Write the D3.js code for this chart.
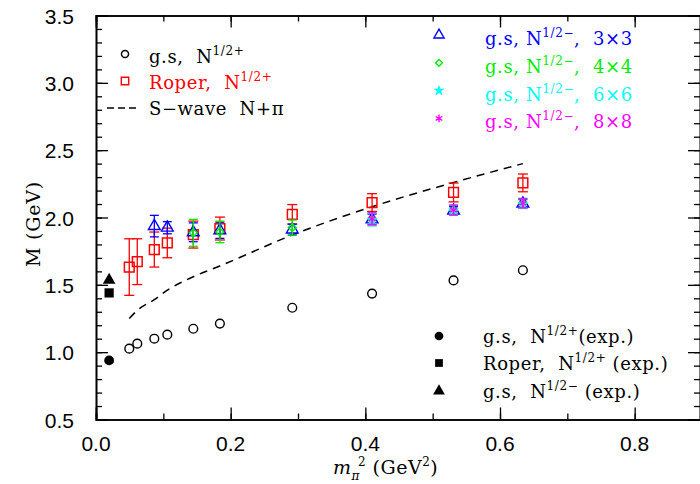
<!DOCTYPE html>
<html>
<head>
<meta charset="utf-8">
<script src="https://cdn.jsdelivr.net/npm/d3@7"></script>
<style>
  body { margin: 0; background: #fff; }
  svg { display: block; }
  .serif { font-family: "DejaVu Serif", serif; }
</style>
</head>
<body>
<svg id="chart" width="700" height="484"></svg>
<script>
// pion mass squared (GeV^2) where the lattice points sit
var mpi2 = [0.0494, 0.0613, 0.0866, 0.1059, 0.1445, 0.184, 0.2915, 0.41, 0.531, 0.634];
var gsPlus = [1.026, 1.063, 1.100, 1.130, 1.174, 1.212, 1.330, 1.435, 1.533, 1.608];
var roper = [1.632, 1.672, 1.762, 1.811, 1.873, 1.918, 2.024, 2.111, 2.186, 2.257];
var roperErr = [0.21, 0.17, 0.13, 0.11, 0.10, 0.085, 0.072, 0.066, 0.07, 0.066];
var sWave = [1.25, 1.31, 1.39, 1.46, 1.56, 1.64, 1.87, 2.08, 2.26, 2.40];

var mpi2Neg3 = [0.0866, 0.1059, 0.1445, 0.184, 0.2915, 0.41, 0.531, 0.634];
var gsMinus3 = [1.936, 1.924, 1.89, 1.905, 1.91, 1.985, 2.05, 2.103];
var gsMinus3Err = [0.08, 0.045, 0.07, 0.06, 0.04, 0.04, 0.03, 0.03];

var mpi2Neg4 = [0.1445, 0.184, 0.2915, 0.41, 0.531, 0.634];
var gsMinus4 = [1.886, 1.893, 1.925, 1.985, 2.054, 2.104];
var gsMinus4Err = [0.10, 0.08, 0.056, 0.046, 0.037, 0.037];

var mpi2Neg6 = [0.41, 0.531, 0.634];
var gsMinus6 = [1.985, 2.054, 2.104];
var gsMinus6Err = [0.045, 0.037, 0.035];

var mpi2Neg8 = [0.41, 0.531, 0.634];
var gsMinus8 = [1.99, 2.055, 2.106];
var gsMinus8Err = [0.045, 0.037, 0.035];

// experimental values at the physical pion mass
var mpi2Phys = 0.0195;
var expGs = 0.939, expRoper = 1.44, expNeg = 1.535;

var xTicks = [0, 0.2, 0.4, 0.6, 0.8];
var yTicks = [0.5, 1.0, 1.5, 2.0, 2.5, 3.0, 3.5];

var svg = d3.select("#chart");

var xScale = d3.scaleLinear()
    .domain([0, 0.9])
    .range([96, 702]);
var yScale = d3.scaleLinear()
    .domain([0.5, 3.5])
    .range([419.5, 15.5]);

var zip = function(xs, ys, es)
{
    return xs.map(function(x, i) { return {x: x, y: ys[i], e: es ? es[i] : 0}; });
}

// frame + ticks (pointing inward)
var drawAxes = function()
{
    var g = svg.append("g").attr("class", "axes");
    var minorX = d3.range(0, 0.91, 0.1);
    var minorY = d3.range(0.5, 3.51, 0.1);

    var axB = d3.axisBottom(xScale).tickValues(xTicks).tickSize(-12).tickFormat("");
    var axBm = d3.axisBottom(xScale).tickValues(minorX).tickSize(-6).tickFormat("");
    var axT = d3.axisTop(xScale).tickValues(xTicks).tickSize(-12).tickFormat("");
    var axTm = d3.axisTop(xScale).tickValues(minorX).tickSize(-6).tickFormat("");
    var axL = d3.axisLeft(yScale).tickValues(yTicks).tickSize(-12).tickFormat("");
    var axLm = d3.axisLeft(yScale).tickValues(minorY).tickSize(-6).tickFormat("");
    var axR = d3.axisRight(yScale).tickValues(yTicks).tickSize(-12).tickFormat("");
    var axRm = d3.axisRight(yScale).tickValues(minorY).tickSize(-6).tickFormat("");

    g.append("g").attr("transform", "translate(0,419.5)").call(axB);
    g.append("g").attr("transform", "translate(0,419.5)").call(axBm);
    g.append("g").attr("transform", "translate(0,15.5)").call(axT);
    g.append("g").attr("transform", "translate(0,15.5)").call(axTm);
    g.append("g").attr("transform", "translate(96,0)").call(axL);
    g.append("g").attr("transform", "translate(96,0)").call(axLm);
    g.append("g").attr("transform", "translate(700,0)").call(axR);
    g.append("g").attr("transform", "translate(700,0)").call(axRm);

    g.selectAll(".domain").style("stroke", "black").style("stroke-width", 1.6);
    g.selectAll(".tick line").style("stroke", "black").style("stroke-width", 1.3);

    // tick labels
    g.selectAll(".xlab")
        .data(xTicks)
        .enter()
        .append("text")
        .attr("x", function(d) { return xScale(d); })
        .attr("y", 451)
        .attr("text-anchor", "middle")
        .style("font-family", "Liberation Sans, Arial, sans-serif")
        .style("font-size", "21px")
        .text(function(d) { return d3.format(".1f")(d); });

    g.selectAll(".ylab")
        .data(yTicks)
        .enter()
        .append("text")
        .attr("x", 74)
        .attr("y", function(d) { return yScale(d) + 8; })
        .attr("text-anchor", "end")
        .style("font-family", "Liberation Sans, Arial, sans-serif")
        .style("font-size", "21px")
        .text(function(d) { return d3.format(".1f")(d); });

    // axis titles
    var xt = svg.append("text")
        .attr("class", "serif")
        .attr("x", 333)
        .attr("y", 474)
        .style("font-size", "19px")
        .style("letter-spacing", "0.5px");
    xt.append("tspan").style("font-style", "italic").text("m");
    xt.append("tspan").attr("dy", 6).style("font-size", "12px").style("font-style", "italic").text("\u03c0");
    xt.append("tspan").attr("dy", -14).attr("dx", -2).style("font-size", "12px").text("2");
    xt.append("tspan").attr("dy", 8).text(" (GeV");
    xt.append("tspan").attr("dy", -8).style("font-size", "12px").text("2");
    xt.append("tspan").attr("dy", 8).text(")");

    svg.append("text")
        .attr("class", "serif")
        .attr("transform", "translate(40,224) rotate(-90)")
        .attr("text-anchor", "middle")
        .style("font-size", "19px")
        .style("letter-spacing", "0.8px")
        .text("M  (GeV)");
}

var errorBars = function(data, color, capHalf)
{
    var g = svg.append("g");
    var bars = g.selectAll("g")
        .data(data)
        .enter()
        .append("g");
    bars.append("line")
        .attr("x1", function(d) { return xScale(d.x); })
        .attr("x2", function(d) { return xScale(d.x); })
        .attr("y1", function(d) { return yScale(d.y - d.e); })
        .attr("y2", function(d) { return yScale(d.y + d.e); })
        .style("stroke", color)
        .style("stroke-width", 1.3);
    [-1, 1].forEach(function(s)
    {
        bars.append("line")
            .attr("x1", function(d) { return xScale(d.x) - capHalf; })
            .attr("x2", function(d) { return xScale(d.x) + capHalf; })
            .attr("y1", function(d) { return yScale(d.y + s * d.e); })
            .attr("y2", function(d) { return yScale(d.y + s * d.e); })
            .style("stroke", color)
            .style("stroke-width", 1.3);
    });
}

var symbols = function(data, type, size, color, filled, stroke)
{
    svg.append("g")
        .selectAll("path")
        .data(data)
        .enter()
        .append("path")
        .attr("transform", function(d) { return "translate(" + xScale(d.x) + "," + yScale(d.y) + ")"; })
        .attr("d", d3.symbol().type(type).size(size))
        .style("fill", filled ? color : "white")
        .style("fill-opacity", filled ? 1 : 0)
        .style("stroke", filled && type != d3.symbolAsterisk ? "none" : color)
        .style("stroke-width", stroke || 1.4);
}

drawAxes();

// S-wave N+pi threshold
var sLine = d3.line()
    .x(function(d) { return xScale(d.x); })
    .y(function(d) { return yScale(d.y); })
    .curve(d3.curveMonotoneX);
svg.append("path")
    .datum(zip(mpi2, sWave))
    .attr("d", sLine)
    .style("fill", "none")
    .style("stroke", "black")
    .style("stroke-width", 1.5)
    .style("stroke-dasharray", "8,6");

var diamond = d3.symbolDiamond2 || d3.symbolDiamond;

// Roper
errorBars(zip(mpi2, roper, roperErr), "red", 5);
symbols(zip(mpi2, roper), d3.symbolSquare, 95, "red", false, 1.5);

// negative parity ground states
errorBars(zip(mpi2Neg3, gsMinus3, gsMinus3Err), "blue", 4.5);
symbols(zip(mpi2Neg3, gsMinus3), d3.symbolTriangle, 60, "blue", false, 1.4);
errorBars(zip(mpi2Neg4, gsMinus4, gsMinus4Err), "#00ee00", 4.5);
symbols(zip(mpi2Neg4, gsMinus4), diamond, 40, "#00ee00", false, 1.4);
errorBars(zip(mpi2Neg6, gsMinus6, gsMinus6Err), "cyan", 4.5);
symbols(zip(mpi2Neg6, gsMinus6), d3.symbolStar, 40, "cyan", true);
errorBars(zip(mpi2Neg8, gsMinus8, gsMinus8Err), "magenta", 4.5);
symbols(zip(mpi2Neg8, gsMinus8), d3.symbolAsterisk, 45, "magenta", true, 1.4);

// positive parity ground state
symbols(zip(mpi2, gsPlus), d3.symbolCircle, 60, "black", false, 1.4);

// experiment
symbols([{x: mpi2Phys, y: expGs}], d3.symbolCircle, 75, "black", true);
symbols([{x: mpi2Phys, y: expRoper}], d3.symbolSquare, 85, "black", true);
symbols([{x: mpi2Phys, y: expNeg}], d3.symbolTriangle, 70, "black", true);

// legends
var legendText = function(x, y, color, parts)
{
    var t = svg.append("text")
        .attr("class", "serif")
        .attr("x", x)
        .attr("y", y)
        .style("font-size", "18px")
        .style("letter-spacing", "0.6px")
        .style("fill", color)
        .attr("xml:space", "preserve");
    parts.forEach(function(p)
    {
        var s = t.append("tspan").text(p.t);
        if (p.sup) s.attr("dy", -8).style("font-size", "12px");
        if (p.down) s.attr("dy", 8);
    });
}
var legendMark = function(x, y, type, size, color, filled)
{
    svg.append("path")
        .attr("transform", "translate(" + x + "," + y + ")")
        .attr("d", d3.symbol().type(type).size(size))
        .style("fill", filled ? color : "none")
        .style("stroke", filled && type != d3.symbolAsterisk ? "none" : color)
        .style("stroke-width", 1.4);
}

legendMark(125, 54, d3.symbolCircle, 40, "black", false);
legendText(149, 63, "black", [{t: "g.s,  N"}, {t: "1/2+", sup: true}]);
legendMark(125, 81, d3.symbolSquare, 55, "red", false);
legendText(149, 89, "red", [{t: "Roper,  N"}, {t: "1/2+", sup: true}]);
svg.append("line")
    .attr("x1", 107).attr("x2", 139)
    .attr("y1", 108).attr("y2", 108)
    .style("stroke", "black")
    .style("stroke-width", 1.4)
    .style("stroke-dasharray", "7,4");
legendText(149, 115, "black", [{t: "S\u2212wave  N+\u03c0"}]);

var negLegend = [
    {type: d3.symbolTriangle, size: 45, color: "blue", filled: false, lat: "3\u00d73"},
    {type: diamond, size: 30, color: "#00ee00", filled: false, lat: "4\u00d74"},
    {type: d3.symbolStar, size: 40, color: "cyan", filled: true, lat: "6\u00d76"},
    {type: d3.symbolAsterisk, size: 40, color: "magenta", filled: true, lat: "8\u00d78"}
];
negLegend.forEach(function(d, i)
{
    var yy = 35 + i * 27.8;
    legendMark(439, yy, d.type, d.size, d.color, d.filled);
    legendText(485, yy + 10, d.color, [{t: "g.s, N"}, {t: "1/2\u2212", sup: true}, {t: ",  " + d.lat, down: true}]);
});

legendMark(439, 336, d3.symbolCircle, 60, "black", true);
legendText(483, 343, "black", [{t: "g.s,  N"}, {t: "1/2+", sup: true}, {t: "(exp.)", down: true}]);
legendMark(439, 363, d3.symbolSquare, 60, "black", true);
legendText(483, 370, "black", [{t: "Roper,  N"}, {t: "1/2+", sup: true}, {t: " (exp.)", down: true}]);
legendMark(439, 391, d3.symbolTriangle, 60, "black", true);
legendText(483, 398, "black", [{t: "g.s,  N"}, {t: "1/2\u2212", sup: true}, {t: " (exp.)", down: true}]);
</script>
</body>
</html>
